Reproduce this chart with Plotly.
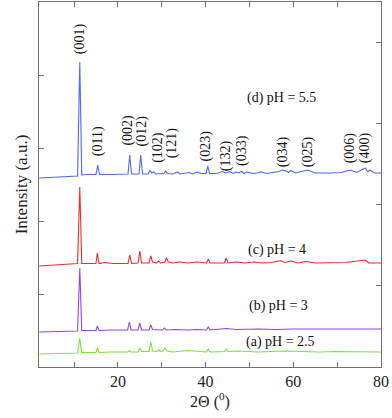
import plotly.graph_objects as go

# ---- data (2-theta in degrees, intensity in arbitrary units incl. vertical offsets) ----
x_d = [2.1, 5, 8, 10.8, 11.3, 11.75, 13, 15.0, 15.4, 15.8, 18, 22.3, 22.7, 23.1, 24.8, 25.2, 25.6,
       26.9, 27.3, 27.7, 28.2, 28.6, 30.5, 30.9, 31.3, 32.5, 33.6, 34.2, 36.3, 37, 38.1, 39, 40.1,
       40.5, 40.9, 42.5, 43.8, 44.6, 45.4, 46.3, 47.0, 47.6, 48.1, 48.8, 49.4, 51, 52.6, 54, 56.7,
       57.4, 58.3, 58.9, 59.4, 60.5, 63.3, 65, 68, 71, 73.0, 74.5, 76.4, 77.0, 77.5, 78.5, 80]
y_d = [189, 189.5, 190, 191, 305, 192, 192.5, 192.5, 202, 192.5, 192.5, 193, 212, 193, 193, 212, 193,
       193, 197, 194, 195, 193, 193.5, 196, 193.5, 193, 195, 193, 194.5, 193, 195, 193.5, 193.5,
       201, 193.5, 193.5, 195.5, 194, 195.5, 193.5, 195, 194, 195.5, 193.5, 195, 193.5, 195, 193.5, 195.5,
       197, 196, 194.5, 196.5, 194, 197, 194, 194, 194.5, 197, 194.5, 199, 195, 197, 194, 194]

x_c = [2.1, 6, 10.8, 11.3, 11.75, 15.0, 15.3, 15.7, 17, 19, 22.3, 22.7, 23.1, 24.6, 25.0, 25.4,
       27.1, 27.5, 27.9, 28.8, 29.3, 29.7, 30.7, 31.1, 31.5, 32.5, 34, 36, 38, 40.2, 40.6, 41,
       44.3, 44.7, 45.1, 47, 49, 51, 53, 55, 57.1, 58, 59.6, 61, 62.8, 65, 68, 72, 76.4, 77.2, 80]
y_c = [101, 102, 103.5, 180, 103.5, 103.5, 114, 103.5, 104.5, 103.5, 103.5, 112, 103.5, 104, 116, 104,
       104, 111, 105, 104, 106, 104, 105, 109, 105, 104, 105, 104, 105, 104, 108, 104,
       104, 109, 104, 105, 104, 105, 104, 104.5, 106.5, 104.5, 106, 104, 105.5, 104, 104.5, 104.5, 107, 104, 104]

x_b = [2.1, 6, 10.8, 11.3, 11.75, 15.0, 15.3, 15.7, 18, 22.2, 22.6, 23.0, 24.6, 25.0, 25.4,
       27.1, 27.5, 27.9, 30.2, 30.6, 31, 33, 36, 38, 40.2, 40.6, 41, 44.7, 47, 52, 56, 60, 66, 72, 78, 80]
y_b = [35, 35.5, 36, 99, 36.5, 36.5, 41, 36.5, 37, 37, 45, 37, 37, 44, 37,
       37, 42, 37.5, 37, 39, 37, 37.5, 37, 37.5, 37, 40, 37, 38.5, 37.5, 38, 37.5, 38, 38, 38.5, 38, 38]

x_a = [2.1, 6, 10.8, 11.3, 11.7, 15.0, 15.3, 15.7, 18, 22.3, 22.6, 23, 24.6, 25.0, 25.4,
       27.1, 27.5, 27.9, 28.9, 29.3, 29.7, 30.3, 30.7, 31.2, 32.5, 35.9, 38, 40.2, 40.6, 41,
       44.3, 44.7, 45.1, 47.5, 52, 56, 58, 62, 66, 70, 76, 80]
y_a = [13, 13.5, 14, 29, 14.5, 14.5, 19, 14.5, 15, 15, 16.5, 15, 15, 19, 15.5,
       15.5, 25, 16, 15.5, 17, 15.5, 16, 19, 16, 15, 16.5, 15.5, 15, 18, 15,
       15.5, 18, 15.5, 16, 15, 15.5, 16, 15.5, 15, 15.5, 15.5, 15]

series_names = ["(d) pH = 5.5", "(c) pH = 4", "(b) pH = 3", "(a) pH = 2.5"]
series_colors = ["#5068f2", "#f02a30", "#8a48ee", "#80e040"]

label_x = [57.4, 56.2, 56.7, 57.1]
label_y = [269, 117, 61, 25]

hkl_text = ["(001)", "(011)", "(002)", "(012)", "(102)", "(121)", "(023)", "(132)", "(033)",
            "(034)", "(025)", "(006)", "(400)"]
hkl_x = [11.4, 15.5, 22.2, 25.6, 29.1, 32.4, 40.2, 44.7, 48.3, 57.7, 63.4, 73.0, 76.4]
hkl_y = [328, 226, 237, 236, 220, 224, 221, 211, 216, 215, 215, 219, 219]

x_ticks = [10, 20, 30, 40, 50, 60, 70, 80]
x_tick_text = ["", "20", "", "40", "", "60", "", "80"]

FONT = "Liberation Serif, Times New Roman, serif"
FRAME = "#707070"

fig = go.Figure()
for xs, ys, name, col in zip([x_d, x_c, x_b, x_a], [y_d, y_c, y_b, y_a], series_names, series_colors):
    fig.add_trace(go.Scatter(x=xs, y=ys, mode="lines", name=name,
                             line=dict(color=col, width=1.1), showlegend=False))

# invisible trace to activate the top and right axes
fig.add_trace(go.Scatter(x=[2, 80], y=[0, 4.5], xaxis="x2", yaxis="y2", mode="lines",
                         line=dict(width=0), hoverinfo="skip", showlegend=False))

for t, xv, yv in zip(series_names, label_x, label_y):
    fig.add_annotation(x=xv, y=yv, text=t, showarrow=False,
                       font=dict(family=FONT, size=14, color="#111111"))

for t, xv, yv in zip(hkl_text, hkl_x, hkl_y):
    fig.add_annotation(x=xv, y=yv, text=t, showarrow=False, textangle=-90,
                       font=dict(family=FONT, size=14, color="#111111"))

fig.update_layout(
    width=392, height=418,
    margin=dict(l=39, r=11, t=2, b=51, autoexpand=False),
    paper_bgcolor="white", plot_bgcolor="white",
    font=dict(family=FONT, color="#111111"),
    xaxis=dict(range=[2, 80], tickvals=x_ticks, ticktext=x_tick_text, automargin=False,
               ticks="inside", ticklen=5, tickcolor=FRAME, showgrid=False, zeroline=False,
               showline=True, linecolor=FRAME, linewidth=1,
               tickfont=dict(family=FONT, size=16, color="#222222"),
               title=dict(text="2Θ (<sup>0</sup>)", font=dict(family=FONT, size=16, color="#222222"),
                          standoff=6)),
    xaxis2=dict(range=[2, 80], tickvals=x_ticks, showticklabels=False, overlaying="x", side="top",
                ticks="inside", ticklen=5, tickcolor=FRAME, showgrid=False, zeroline=False,
                automargin=False, showline=True, linecolor=FRAME, linewidth=1),
    yaxis=dict(range=[0, 365], tickvals=[73, 146, 219, 292], showticklabels=False, automargin=False,
               ticks="inside", ticklen=5, tickcolor=FRAME, showgrid=False, zeroline=False,
               showline=True, linecolor=FRAME, linewidth=1,
               title=dict(text="Intensity (a.u.)", font=dict(family=FONT, size=17, color="#222222"),
                          standoff=6)),
    yaxis2=dict(range=[0, 4.5], tickvals=[1, 2, 3, 4], showticklabels=False, overlaying="y",
                side="right", ticks="inside", ticklen=5, tickcolor=FRAME, showgrid=False,
                automargin=False, zeroline=False, showline=True, linecolor=FRAME, linewidth=1),
)

fig.write_html("out.html", config={"displayModeBar": False},
               post_script="document.body.style.margin='0px';")
